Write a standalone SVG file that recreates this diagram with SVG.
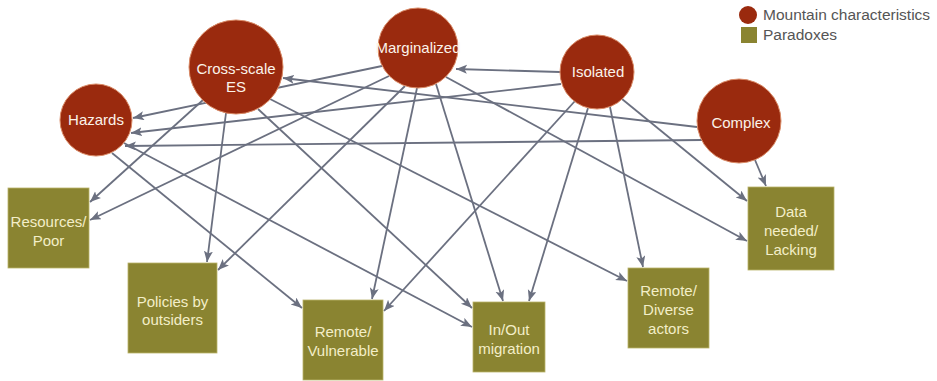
<svg xmlns="http://www.w3.org/2000/svg" width="937" height="381" viewBox="0 0 937 381">
<style>
.c{fill:#9a2a0e;stroke:#d98a66;stroke-width:1}
.r{fill:#8a8431;stroke:#b9b36a;stroke-width:0.8}
.ct{font-family:"Liberation Sans",Arial,sans-serif;font-size:15px;fill:#fbf3ea;text-anchor:middle}
.rt{font-family:"Liberation Sans",Arial,sans-serif;font-size:15px;fill:#f3eec8;text-anchor:middle}
.lt{font-family:"Liberation Sans",Arial,sans-serif;font-size:15.5px;fill:#555555}
.e{stroke:#6b7080;stroke-width:1.8;fill:none;marker-end:url(#ah)}
</style>
<defs>
<marker id="ah" markerUnits="userSpaceOnUse" markerWidth="12" markerHeight="10" refX="11" refY="4.5" orient="auto">
<path d="M0,0 L11,4.5 L0,9 L2.5,4.5 z" fill="#6b7080"/>
</marker>
</defs>
<rect width="937" height="381" fill="#ffffff"/>
<g id="connectors">
<line class="e" x1="697" y1="127" x2="283" y2="78"/>
<line class="e" x1="702" y1="140" x2="125" y2="146"/>
<line class="e" x1="382" y1="66" x2="133" y2="118"/>
<line class="e" x1="561" y1="84" x2="131" y2="133"/>
<line class="e" x1="560" y1="72" x2="456" y2="69"/>
<line class="e" x1="203" y1="100" x2="90" y2="202"/>
<line class="e" x1="389" y1="76" x2="90" y2="220"/>
<line class="e" x1="226" y1="113" x2="207" y2="262"/>
<line class="e" x1="405" y1="86" x2="218" y2="270"/>
<line class="e" x1="112" y1="153" x2="302" y2="308"/>
<line class="e" x1="417" y1="88" x2="372" y2="299"/>
<line class="e" x1="575" y1="101" x2="384" y2="311"/>
<line class="e" x1="258" y1="109" x2="472" y2="308"/>
<line class="e" x1="124" y1="143" x2="472" y2="327"/>
<line class="e" x1="436" y1="84" x2="503" y2="301"/>
<line class="e" x1="588" y1="108" x2="529" y2="301"/>
<line class="e" x1="270" y1="99" x2="627" y2="281"/>
<line class="e" x1="610" y1="107" x2="643" y2="267"/>
<line class="e" x1="755" y1="160" x2="766" y2="186"/>
<line class="e" x1="622" y1="99" x2="747" y2="201"/>
<line class="e" x1="446" y1="77" x2="747" y2="241"/>
</g>
<g id="hazards">
<circle class="c" cx="96" cy="120" r="36"/>
<text class="ct" x="96" y="125">Hazards</text>
</g>
<g id="cross-scale-es">
<circle class="c" cx="236" cy="67" r="47"/>
<text class="ct" x="236" y="74">Cross-scale</text>
<text class="ct" x="236" y="92">ES</text>
</g>
<g id="marginalized">
<circle class="c" cx="418" cy="48" r="40"/>
<text class="ct" x="418" y="53">Marginalized</text>
</g>
<g id="isolated">
<circle class="c" cx="597" cy="72" r="37"/>
<text class="ct" x="598" y="77">Isolated</text>
</g>
<g id="complex">
<circle class="c" cx="739" cy="121" r="42"/>
<text class="ct" x="741" y="128">Complex</text>
</g>
<g id="resources-poor">
<rect class="r" x="8" y="188" width="81" height="80"/>
<text class="rt" x="48.5" y="227">Resources/</text>
<text class="rt" x="48.5" y="246">Poor</text>
</g>
<g id="policies-by-outsiders">
<rect class="r" x="128" y="263" width="89" height="90"/>
<text class="rt" x="172.5" y="307">Policies by</text>
<text class="rt" x="172.5" y="325">outsiders</text>
</g>
<g id="remote-vulnerable">
<rect class="r" x="303" y="300" width="80" height="80"/>
<text class="rt" x="343" y="337">Remote/</text>
<text class="rt" x="343" y="356">Vulnerable</text>
</g>
<g id="in-out-migration">
<rect class="r" x="473" y="302" width="72" height="70"/>
<text class="rt" x="509" y="335">In/Out</text>
<text class="rt" x="509" y="354">migration</text>
</g>
<g id="remote-diverse-actors">
<rect class="r" x="628" y="268" width="81" height="80"/>
<text class="rt" x="668.5" y="296">Remote/</text>
<text class="rt" x="668.5" y="315">Diverse</text>
<text class="rt" x="668.5" y="334">actors</text>
</g>
<g id="data-needed-lacking">
<rect class="r" x="748" y="187" width="86" height="83"/>
<text class="rt" x="791" y="217">Data</text>
<text class="rt" x="791" y="236">needed/</text>
<text class="rt" x="791" y="255">Lacking</text>
</g>
<g id="legend">
<circle cx="748" cy="15" r="9" fill="#9a2a0e"/>
<rect x="741" y="27" width="16" height="16" fill="#8a8431"/>
<text class="lt" x="763" y="20">Mountain characteristics</text>
<text class="lt" x="763" y="40">Paradoxes</text>
</g>
</svg>
